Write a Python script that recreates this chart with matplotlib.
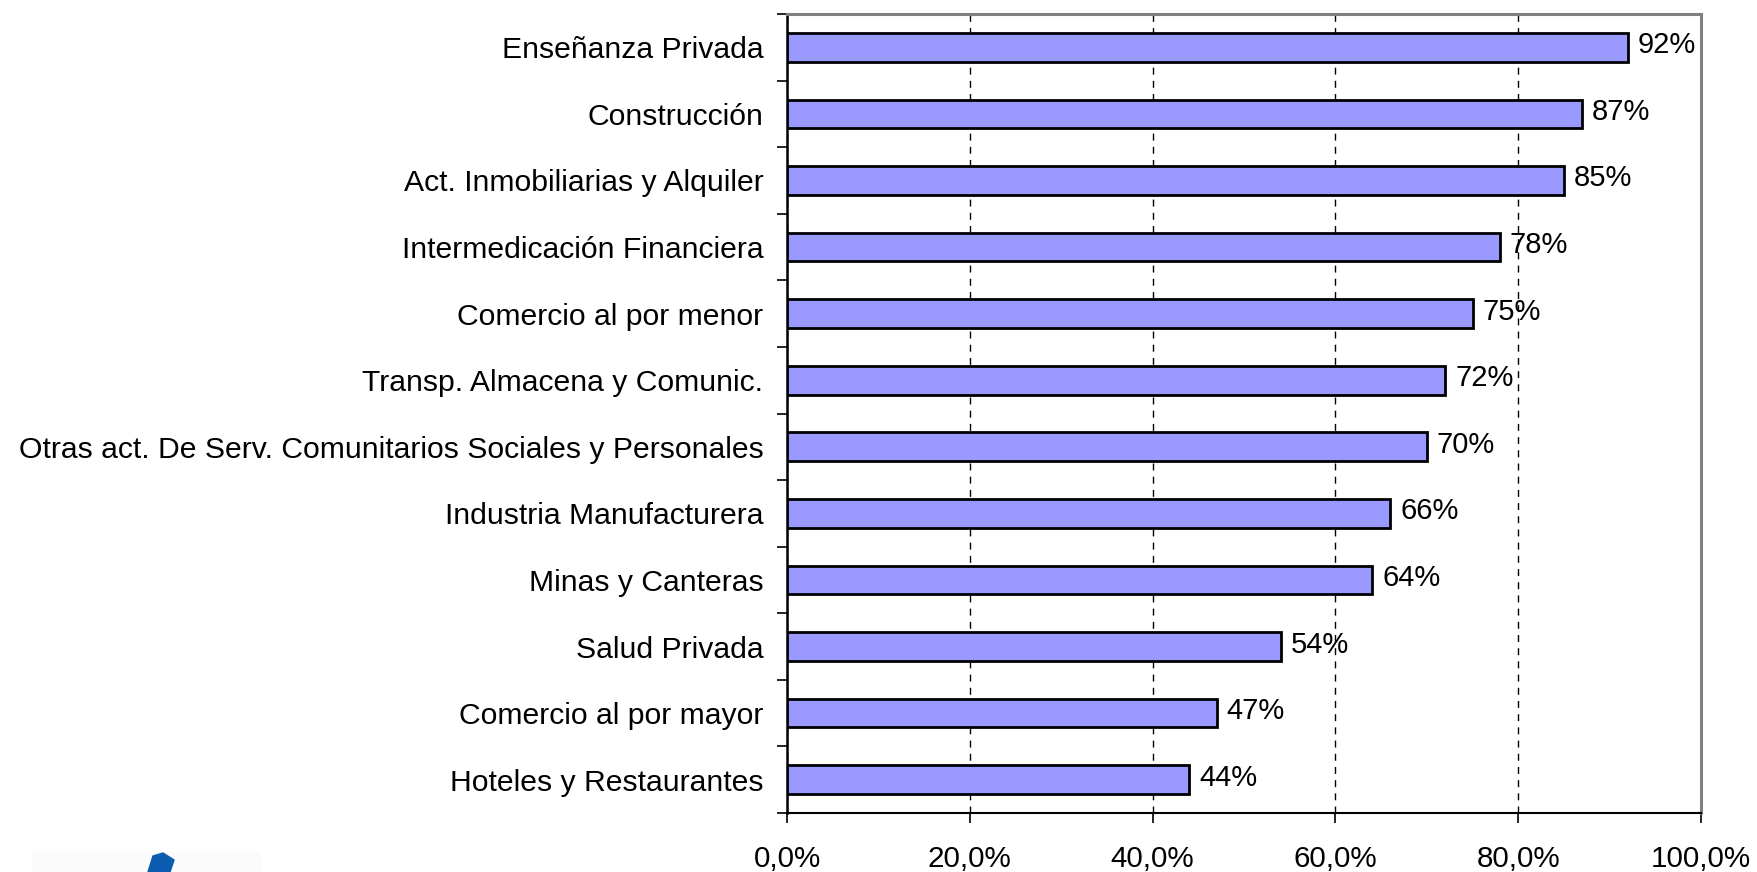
import numpy as np
import matplotlib.pyplot as plt
from matplotlib.patches import Polygon, Rectangle
from matplotlib.ticker import FuncFormatter

plt.rcParams['font.family'] = ['Liberation Sans', 'DejaVu Sans']

# datos (de abajo hacia arriba)
sectores = [
    'Hoteles y Restaurantes',
    'Comercio al por mayor',
    'Salud Privada',
    'Minas y Canteras',
    'Industria Manufacturera',
    'Otras act. De Serv. Comunitarios Sociales y Personales',
    'Transp. Almacena y Comunic.',
    'Comercio al por menor',
    'Intermedicación Financiera',
    'Act. Inmobiliarias y Alquiler',
    'Construcción',
    'Enseñanza Privada',
]
valores = [44, 47, 54, 64, 66, 70, 72, 75, 78, 85, 87, 92]
xticks = [0, 20, 40, 60, 80, 100]

fig = plt.figure(figsize=(17.58, 8.72), dpi=100)
ax = fig.add_axes([0.4477, 0.0677, 0.5199, 0.9162])

y = np.arange(len(sectores))
ax.barh(y, valores, height=0.43, color='#9999FF', edgecolor='black', linewidth=2.0, zorder=3)

for yi, v in zip(y, valores):
    ax.annotate(f'{v}%', (v, yi), xytext=(10, 2), textcoords='offset pixels',
                va='center', ha='left', fontsize=21, zorder=4)

ax.set_xlim(0, 100)
ax.set_ylim(-0.5, len(sectores) - 0.5)
ax.set_xticks(xticks)
ax.xaxis.set_major_formatter(FuncFormatter(lambda v, p: f'{v:.1f}%'.replace('.', ',')))
ax.set_yticks(y)
ax.set_yticklabels(sectores)
ax.set_yticks(np.arange(-0.5, len(sectores), 1), minor=True)

ax.tick_params(axis='y', which='major', length=0, pad=17, labelsize=21.7)
ax.tick_params(axis='y', which='minor', length=7, width=1.2, direction='out')
ax.tick_params(axis='x', length=7, width=1.2, direction='out', pad=16, labelsize=21.3)

ax.grid(axis='x', color='black', linestyle=(0, (5, 4.5)), linewidth=1.0, zorder=1)
ax.set_axisbelow(True)

ax.spines['left'].set_color('black')
ax.spines['left'].set_linewidth(1.8)
ax.spines['bottom'].set_color('black')
ax.spines['bottom'].set_linewidth(1.5)
for s in ['top', 'right']:
    ax.spines[s].set_color('#808080')
    ax.spines[s].set_linewidth(2.2)

# fragmento del logo abajo a la izquierda
fig.patches.append(Rectangle((32 / 1758, 0), 228 / 1758, 20 / 872,
                             transform=fig.transFigure, color='#FBFBFB', zorder=0))
cubo = [(148, 872), (153, 856), (163, 853), (174, 860), (170, 872)]
fig.patches.append(Polygon([(px / 1758, 1 - py / 872) for px, py in cubo],
                           closed=True, transform=fig.transFigure,
                           color='#0A5CB0', zorder=1))

fig.savefig('out.png', dpi=100)
